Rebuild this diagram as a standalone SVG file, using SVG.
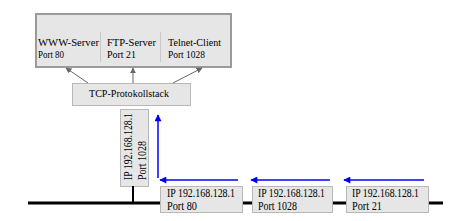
<svg xmlns="http://www.w3.org/2000/svg" width="462" height="221" viewBox="0 0 462 221">
<defs>
<marker id="ag" viewBox="0 0 10 10" refX="9" refY="5" markerWidth="6" markerHeight="6" markerUnits="userSpaceOnUse" orient="auto"><path d="M0,0 L10,5 L0,10 z" fill="#666"/></marker>
<marker id="ab" viewBox="0 0 10 10" refX="9" refY="5" markerWidth="8" markerHeight="7" markerUnits="userSpaceOnUse" orient="auto"><path d="M0,0 L10,5 L0,10 z" fill="#0000ff"/></marker>
</defs>
<style>
.box{fill:#e6e6e6;stroke:#b8b8b8;stroke-width:1}
.big{fill:#e6e6e6;stroke:#9a9a9a;stroke-width:2}
.t{font-family:"Liberation Serif",serif;font-size:11px;fill:#000}
.s{font-family:"Liberation Serif",serif;font-size:12px;fill:#000}
.g{stroke:#666;stroke-width:1;fill:none;marker-end:url(#ag)}
.b{stroke:#0000ff;stroke-width:1.5;fill:none;marker-end:url(#ab)}
</style>
<rect width="462" height="221" fill="#fff"/>
<g id="apps">
<rect class="big" x="36" y="14" width="195" height="53"/>
<line x1="100.5" y1="32" x2="100.5" y2="62" stroke="#c8c8c8"/>
<line x1="160.5" y1="32" x2="160.5" y2="62" stroke="#c8c8c8"/>
<text class="t" x="38" y="46" textLength="61" lengthAdjust="spacingAndGlyphs">WWW-Server</text>
<text class="t" x="38" y="58" textLength="26" lengthAdjust="spacingAndGlyphs">Port 80</text>
<text class="t" x="107" y="46" textLength="49" lengthAdjust="spacingAndGlyphs">FTP-Server</text>
<text class="t" x="107" y="58" textLength="29" lengthAdjust="spacingAndGlyphs">Port 21</text>
<text class="t" x="168" y="46" textLength="53" lengthAdjust="spacingAndGlyphs">Telnet-Client</text>
<text class="t" x="168" y="58" textLength="37" lengthAdjust="spacingAndGlyphs">Port 1028</text>
</g>
<g id="tcp">
<rect class="box" x="72.5" y="83.5" width="118" height="22"/>
<text class="t" x="89" y="97" textLength="80" lengthAdjust="spacingAndGlyphs">TCP-Protokollstack</text>
</g>
<g id="client">
<rect class="box" x="120.5" y="109.5" width="28" height="77"/>
<text class="s" transform="translate(132,180) rotate(-90)" textLength="67" lengthAdjust="spacingAndGlyphs">IP 192.168.128.1</text>
<text class="s" transform="translate(145.5,180) rotate(-90)" textLength="39" lengthAdjust="spacingAndGlyphs">Port 1028</text>
</g>
<g id="bus">
<line x1="28" y1="203" x2="443" y2="203" stroke="#000" stroke-width="3"/>
</g>
<g id="pkt1">
<rect class="box" x="160.5" y="186.5" width="82" height="26"/>
<text class="s" x="167" y="197" textLength="68" lengthAdjust="spacingAndGlyphs">IP 192.168.128.1</text>
<text class="s" x="167" y="210" textLength="30" lengthAdjust="spacingAndGlyphs">Port 80</text>
</g>
<g id="pkt2">
<rect class="box" x="252.5" y="186.5" width="80" height="26"/>
<text class="s" x="258" y="197" textLength="67" lengthAdjust="spacingAndGlyphs">IP 192.168.128.1</text>
<text class="s" x="258" y="210" textLength="39" lengthAdjust="spacingAndGlyphs">Port 1028</text>
</g>
<g id="pkt3">
<rect class="box" x="346.5" y="186.5" width="82" height="26"/>
<text class="s" x="352" y="197" textLength="67" lengthAdjust="spacingAndGlyphs">IP 192.168.128.1</text>
<text class="s" x="352" y="210" textLength="30" lengthAdjust="spacingAndGlyphs">Port 21</text>
</g>
<g id="connectors">
<line x1="133" y1="186" x2="133" y2="203" stroke="#000" stroke-width="2"/>
<line class="g" x1="88" y1="83" x2="66" y2="68"/>
<line class="g" x1="133" y1="83" x2="133" y2="68"/>
<line class="g" x1="173" y1="83" x2="202" y2="68"/>
<line class="b" x1="158" y1="178" x2="158" y2="115"/>
<line class="b" x1="238" y1="180" x2="160" y2="180"/>
<line class="b" x1="330" y1="180" x2="251" y2="180"/>
<line class="b" x1="424" y1="180" x2="344" y2="180"/>
</g>
</svg>
